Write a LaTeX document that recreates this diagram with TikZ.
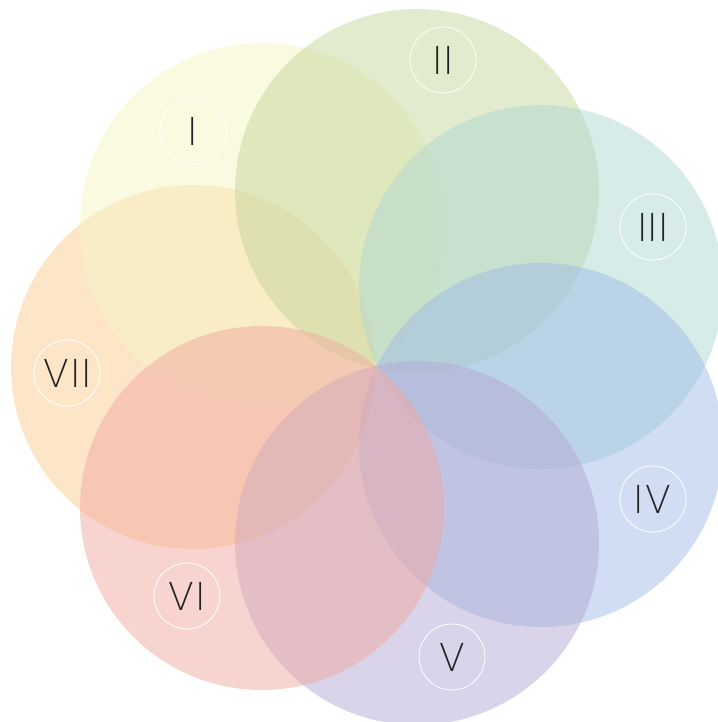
\documentclass[tikz,border=0pt]{standalone}
\usepackage{fontspec}
\newfontfamily\lblfont[LetterSpace=6]{Poppins ExtraLight}
\definecolor{cI}{RGB}{245,245,195}
\definecolor{cII}{RGB}{197,215,155}
\definecolor{cIII}{RGB}{175,215,209}
\definecolor{cIV}{RGB}{161,187,229}
\definecolor{cV}{RGB}{179,169,213}
\definecolor{cVI}{RGB}{241,169,161}
\definecolor{cVII}{RGB}{251,205,145}
\definecolor{txt}{RGB}{35,35,35}
\tikzset{
  petal/.style={fill=#1, fill opacity=0.5, draw=none},
  tag/.style={circle, draw=white, line width=0.8pt, minimum size=66pt, inner sep=0pt,
    text=txt, font=\lblfont\fontsize{40}{40}\selectfont}
}
\begin{document}
\begin{tikzpicture}[x=1pt,y=1pt]
\useasboundingbox (0,0) rectangle (717,722);
\foreach \c/\p in {cVII/{193,355}, cI/{262,497}, cII/{417,531}, cIII/{541,435}, cIV/{541,277}, cV/{417,179}, cVI/{262,214}}{
  \fill[petal=\c] (\p) circle (182);
}
\node[tag] (tI) at (193,591) {I};
\node[tag] (tII) at (443,662) {II};
\node[tag] (tIII) at (653,495) {III};
\node[tag] (tIV) at (653,223) {IV};
\node[tag] (tV) at (452,65) {V};
\node[tag] (tVI) at (187,126) {VI};
\node[tag] (tVII) at (67,349) {VII};
\end{tikzpicture}
\end{document}
